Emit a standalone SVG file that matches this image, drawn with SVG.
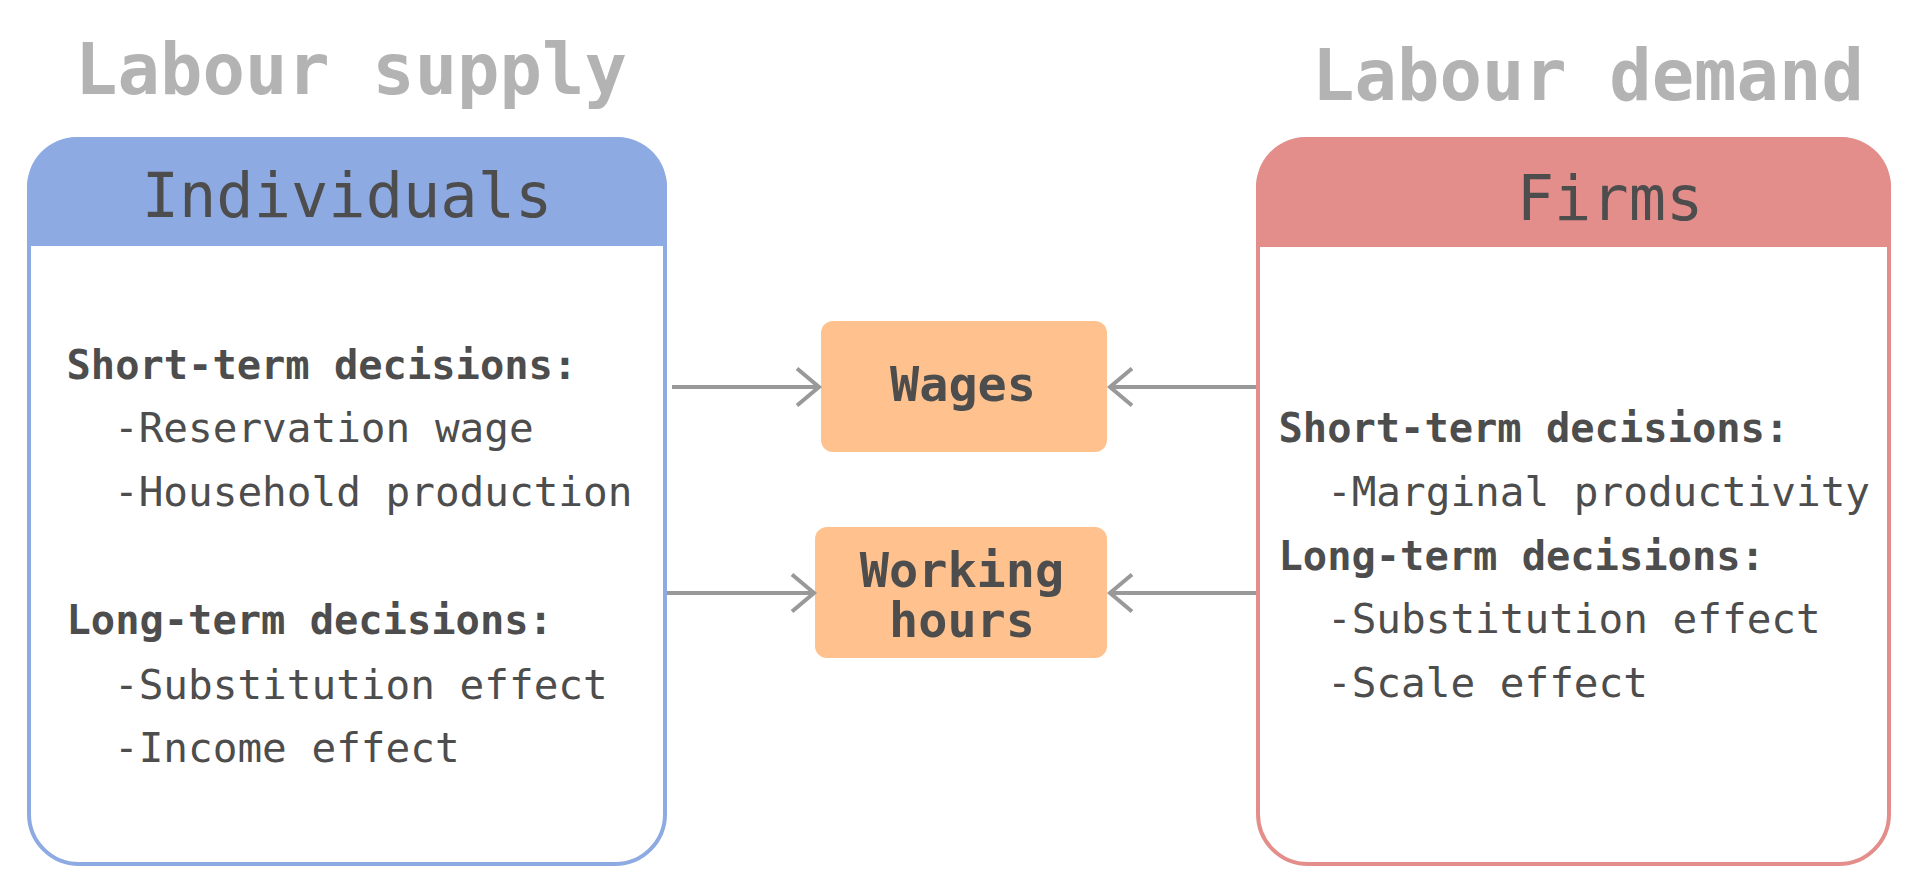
<svg xmlns="http://www.w3.org/2000/svg" width="1914" height="888" viewBox="0 0 1914 888">
<style>
  text { font-family: "DejaVu Sans Mono", "Liberation Mono", monospace; fill: #4d4d4d; }
  .title { font-size: 70.5px; font-weight: bold; fill: #b3b3b3; text-anchor: middle; }
  .head { font-size: 62px; text-anchor: middle; }
  .body { font-size: 41px; }
  .b { font-weight: bold; font-size: 40.4px; }
  .lbl { font-size: 48.5px; font-weight: bold; text-anchor: middle; }
  .conn { stroke: #999999; stroke-width: 4; fill: none; }
</style>
<defs>
  <marker id="chev" markerUnits="userSpaceOnUse" markerWidth="40" markerHeight="50" viewBox="-30 -25 40 50" refX="0" refY="0" orient="auto">
    <path d="M-22,-18.5 L0,0 L-22,18.5" stroke="#999999" stroke-width="4" fill="none"/>
  </marker>
</defs>
<rect width="1914" height="888" fill="#ffffff"/>

<g id="title-supply"><text class="title" x="351" y="94">Labour supply</text></g>
<g id="title-demand"><text class="title" x="1588" y="100">Labour demand</text></g>

<g id="individuals">
  <rect x="29" y="139" width="636" height="725" rx="50" fill="#ffffff" stroke="#8eaae3" stroke-width="4"/>
  <path d="M27,246 V189 A50,50 0 0 1 77,137 H617 A50,50 0 0 1 667,189 V246 Z" fill="#8eaae3"/>
  <text class="head" x="347" y="217">Individuals</text>
  <text class="body b" x="66.5" y="379">Short-term decisions:</text>
  <text class="body" x="114" y="442">-Reservation wage</text>
  <text class="body" x="114" y="506">-Household production</text>
  <text class="body b" x="66.5" y="634">Long-term decisions:</text>
  <text class="body" x="114" y="699">-Substitution effect</text>
  <text class="body" x="114" y="762">-Income effect</text>
</g>

<g id="firms">
  <rect x="1258" y="139" width="631" height="725" rx="50" fill="#ffffff" stroke="#e48e8c" stroke-width="4"/>
  <path d="M1256,247 V189 A50,50 0 0 1 1306,137 H1841 A50,50 0 0 1 1891,189 V247 Z" fill="#e48e8c"/>
  <text class="head" x="1610" y="220">Firms</text>
  <text class="body b" x="1278.5" y="442">Short-term decisions:</text>
  <text class="body" x="1327" y="506">-Marginal productivity</text>
  <text class="body b" x="1278.5" y="570">Long-term decisions:</text>
  <text class="body" x="1327" y="633">-Substitution effect</text>
  <text class="body" x="1327" y="697">-Scale effect</text>
</g>

<g id="wages">
  <rect x="821" y="321" width="286" height="131" rx="12" fill="#ffc28f"/>
  <text class="lbl" x="963" y="401">Wages</text>
</g>

<g id="working-hours">
  <rect x="815" y="527" width="292" height="131" rx="12" fill="#ffc28f"/>
  <text class="lbl" x="962" y="587">Working</text>
  <text class="lbl" x="962" y="637">hours</text>
</g>

<g id="connectors">
  <line class="conn" x1="672" y1="387" x2="819" y2="387" marker-end="url(#chev)"/>
  <line class="conn" x1="667" y1="593" x2="814" y2="593" marker-end="url(#chev)"/>
  <line class="conn" x1="1256" y1="387" x2="1110" y2="387" marker-end="url(#chev)"/>
  <line class="conn" x1="1256" y1="593" x2="1110" y2="593" marker-end="url(#chev)"/>
</g>
</svg>
